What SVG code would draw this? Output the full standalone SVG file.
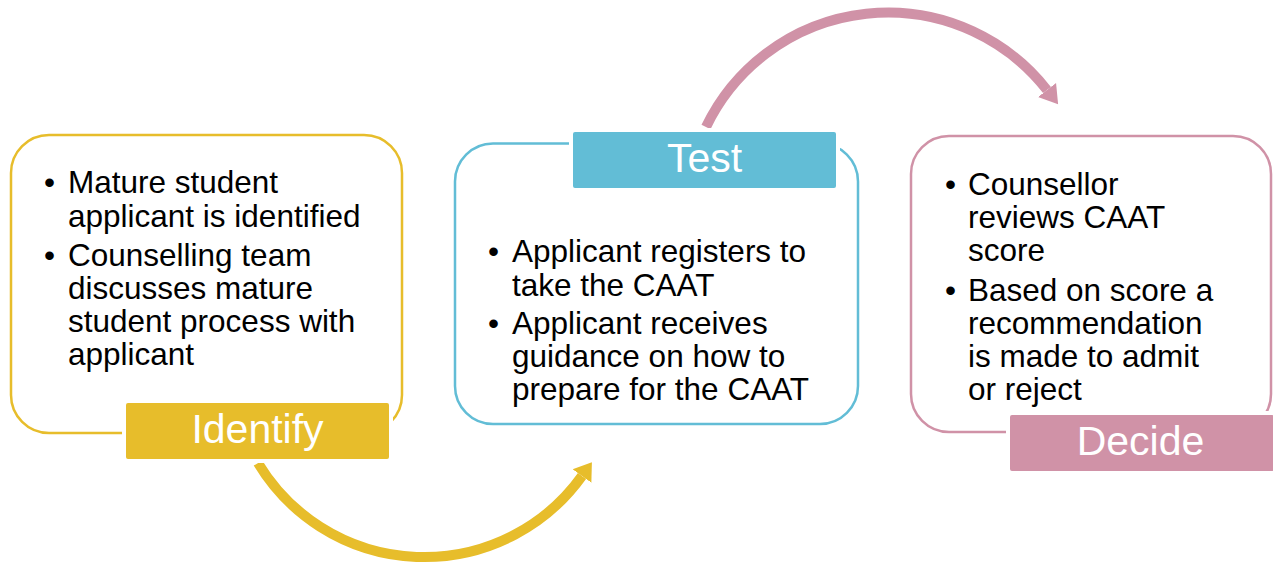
<svg xmlns="http://www.w3.org/2000/svg" width="1273" height="564" viewBox="0 0 1273 564">
  <style>
    .frame { fill: #ffffff; stroke-width: 2.5; }
    .tab { stroke: #ffffff; stroke-width: 4; }
    .tab-text { font-family: "Liberation Sans", Arial, sans-serif; font-size: 41px; fill: #ffffff; text-anchor: middle; }
    .body { font-family: "Liberation Sans", Arial, sans-serif; font-size: 31.5px; fill: #000000; }
    .flow { fill: none; stroke-width: 10; }
    .gold { stroke: #E7BD2B; }
    .gold-fill { fill: #E7BD2B; }
    .blue { stroke: #62BDD6; }
    .blue-fill { fill: #62BDD6; }
    .rose { stroke: #D092A7; }
    .rose-fill { fill: #D092A7; }
  </style>
  <defs>
    <marker id="head-gold" markerUnits="userSpaceOnUse" markerWidth="20" markerHeight="26" viewBox="0 -13 20 26" refX="0" refY="0" orient="auto">
      <path d="M0,-11.5 L17,0 L0,11.5 Z" fill="#E7BD2B"/>
    </marker>
    <marker id="head-rose" markerUnits="userSpaceOnUse" markerWidth="20" markerHeight="26" viewBox="0 -13 20 26" refX="0" refY="0" orient="auto">
      <path d="M0,-11.5 L18,0 L0,11.5 Z" fill="#D092A7"/>
    </marker>
  </defs>

  <!-- connectors between the stages -->
  <g id="connectors">
    <path class="flow gold" d="M258,463 A194,194 0 0 0 582,476" marker-end="url(#head-gold)"/>
    <path class="flow rose" d="M706,127 A202,202 0 0 1 1047,90" marker-end="url(#head-rose)"/>
  </g>

  <!-- stage 1 -->
  <g id="identify">
    <rect class="frame gold" x="11" y="135" width="391" height="298" rx="38" ry="38"/>
    <text class="body">
      <tspan x="44" y="193">•</tspan><tspan x="68" y="193">Mature student</tspan>
      <tspan x="68" y="226.5">applicant is identified</tspan>
      <tspan x="44" y="265.5">•</tspan><tspan x="68" y="265.5">Counselling team</tspan>
      <tspan x="68" y="298.8">discusses mature</tspan>
      <tspan x="68" y="332.1">student process with</tspan>
      <tspan x="68" y="365.4">applicant</tspan>
    </text>
    <rect class="tab gold-fill" x="124" y="401" width="267" height="60" rx="4" ry="4"/>
    <text class="tab-text" x="257.5" y="443">Identify</text>
  </g>

  <!-- stage 2 -->
  <g id="test">
    <rect class="frame blue" x="455" y="143.5" width="403" height="280.5" rx="38" ry="38"/>
    <rect class="tab blue-fill" x="571" y="130" width="267" height="60" rx="4" ry="4"/>
    <text class="tab-text" x="704.5" y="172">Test</text>
    <text class="body">
      <tspan x="488" y="262">•</tspan><tspan x="512" y="262">Applicant registers to</tspan>
      <tspan x="512" y="295.5">take the CAAT</tspan>
      <tspan x="488" y="333.5">•</tspan><tspan x="512" y="333.5">Applicant receives</tspan>
      <tspan x="512" y="366.8">guidance on how to</tspan>
      <tspan x="512" y="400">prepare for the CAAT</tspan>
    </text>
  </g>

  <!-- stage 3 -->
  <g id="decide">
    <rect class="frame rose" x="911" y="136" width="360" height="296" rx="38" ry="38"/>
    <text class="body">
      <tspan x="945" y="195">•</tspan><tspan x="968" y="195">Counsellor</tspan>
      <tspan x="968" y="228.3">reviews CAAT</tspan>
      <tspan x="968" y="261.3">score</tspan>
      <tspan x="945" y="300.5">•</tspan><tspan x="968" y="300.5">Based on score a</tspan>
      <tspan x="968" y="333.8">recommendation</tspan>
      <tspan x="968" y="366.8">is made to admit</tspan>
      <tspan x="968" y="400.1">or reject</tspan>
    </text>
    <rect class="tab rose-fill" x="1008" y="413" width="268" height="60" rx="4" ry="4"/>
    <text class="tab-text" x="1140.5" y="455">Decide</text>
  </g>
</svg>
